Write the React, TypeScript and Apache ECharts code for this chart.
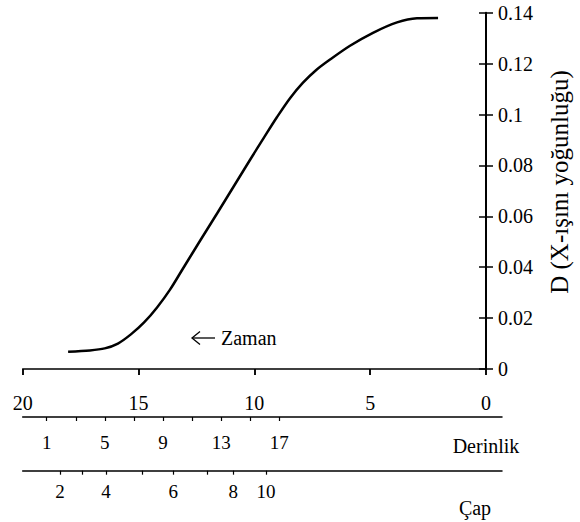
import React, { useEffect, useRef } from "react";
import * as echarts from "echarts";

// Zaman (time) axis and the density curve
const curveTime = [18.04, 17.1, 16.46, 15.89, 15.33, 14.76, 14.2, 13.64, 13.08, 12.35, 11.61, 10.88, 10.15, 9.58, 9.02, 8.46, 7.9, 7.34, 6.73, 5.87, 4.88, 3.84, 2.98, 2.07];
const curveDensity = [0.0068, 0.0073, 0.0081, 0.01, 0.0136, 0.0183, 0.0242, 0.0312, 0.0395, 0.0503, 0.0611, 0.0719, 0.0827, 0.091, 0.099, 0.1064, 0.1125, 0.1174, 0.1216, 0.127, 0.1321, 0.1362, 0.1378, 0.1379];

// Derinlik (depth) scale
const derinlikTicks = [1, 3, 5, 7, 9, 11, 13, 15, 17];
const derinlikLabels = [1, 5, 9, 13, 17];

// Çap (diameter) scale: value and its position on the time scale
const capValues = [2, 3, 4, 5, 6, 7, 8, 10];
const capTimes = [18.39, 17.41, 16.4, 14.86, 13.5, 12.03, 10.91, 9.5];
const capLabels = [2, 4, 6, 8, 10];

const FONT = "'Liberation Serif', 'Times New Roman', serif";
const INK = "#000";

export default function App() {
  const ref = useRef<HTMLDivElement>(null);
  useEffect(() => {
    if (!ref.current) return;
    const chart = echarts.init(ref.current, undefined, { renderer: "svg" });
    const data = curveTime.map((t, i) => [t, curveDensity[i]]);
    const capLabelTimes = capLabels.map((v) => capTimes[capValues.indexOf(v)]);
    const labelStyle = { color: INK, fontFamily: FONT, fontSize: 20 };
    chart.setOption({
      animation: false,
      backgroundColor: "#fff",
      textStyle: { fontFamily: FONT },
      grid: [
        { left: 22.7, right: 94, top: 12.7, bottom: 153 },
        { left: 22.7, right: 78, top: 416, height: 1 },
        { left: 22.7, right: 78, top: 469.7, height: 1 },
      ],
      xAxis: [
        {
          type: "value", gridIndex: 0, min: 0, max: 20, interval: 5, inverse: true,
          axisLine: { show: true, onZero: false, lineStyle: { color: INK, width: 1.5 } },
          axisTick: { show: true, length: 6, lineStyle: { color: INK, width: 1.5 } },
          axisLabel: { ...labelStyle, margin: 24 },
          splitLine: { show: false },
        },
        {
          type: "value", gridIndex: 0, min: 0, max: 20, interval: 5, inverse: true,
          axisLine: { show: false },
          axisTick: { show: true, inside: true, length: 6, lineStyle: { color: INK, width: 1.5 } },
          axisLabel: { show: false },
          splitLine: { show: false },
        },
        {
          type: "value", gridIndex: 1, min: -0.65, max: 32.31,
          axisLine: { show: true, onZero: false, lineStyle: { color: INK, width: 1.5 } },
          axisTick: { show: true, length: 4, customValues: derinlikTicks, lineStyle: { color: INK, width: 1.2 } },
          axisLabel: { ...labelStyle, fontSize: 19, margin: 16, customValues: derinlikLabels },
          splitLine: { show: false },
        },
        {
          type: "value", gridIndex: 2, min: -0.69, max: 20, inverse: true,
          axisLine: { show: true, onZero: false, lineStyle: { color: INK, width: 1.5 } },
          axisTick: { show: true, length: 4, customValues: capTimes, lineStyle: { color: INK, width: 1.2 } },
          axisLabel: {
            ...labelStyle, fontSize: 19, margin: 11, customValues: capLabelTimes,
            formatter: (val: number) => {
              const i = capTimes.findIndex((t) => Math.abs(t - val) < 1e-6);
              return i >= 0 ? String(capValues[i]) : "";
            },
          },
          splitLine: { show: false },
        },
      ],
      yAxis: [
        {
          type: "value", gridIndex: 0, position: "right", min: 0, max: 0.14, interval: 0.02,
          axisLine: { show: true, onZero: false, lineStyle: { color: INK, width: 2 } },
          axisTick: { show: true, length: 7, lineStyle: { color: INK, width: 1.5 } },
          axisLabel: { ...labelStyle, margin: 12 },
          splitLine: { show: false },
        },
        {
          type: "value", gridIndex: 0, position: "right", min: 0, max: 0.14, interval: 0.02,
          axisLine: { show: false },
          axisTick: { show: true, inside: true, length: 7, lineStyle: { color: INK, width: 1.5 } },
          axisLabel: { show: false },
          splitLine: { show: false },
        },
        { type: "value", gridIndex: 1, show: false },
        { type: "value", gridIndex: 2, show: false },
      ],
      series: [
        {
          type: "line", xAxisIndex: 0, yAxisIndex: 0, data,
          smooth: 0.3, showSymbol: false, symbol: "none",
          lineStyle: { color: INK, width: 2.5 },
        },
      ],
      graphic: [
        {
          type: "text", x: 559, y: 182, rotation: Math.PI / 2,
          style: { text: "D (X-ışını yoğunluğu)", fill: INK, font: `25px ${FONT}`, align: "center", verticalAlign: "middle" },
        },
        {
          type: "text", x: 486, y: 446,
          style: { text: "Derinlik", fill: INK, font: `20px ${FONT}`, align: "center", verticalAlign: "middle" },
        },
        {
          type: "text", x: 475, y: 508,
          style: { text: "Çap", fill: INK, font: `20px ${FONT}`, align: "center", verticalAlign: "middle" },
        },
        {
          type: "line", shape: { x1: 192, y1: 338, x2: 215, y2: 338 },
          style: { stroke: INK, lineWidth: 1.3 },
        },
        {
          type: "polyline", shape: { points: [[200, 331.5], [192, 338], [200, 344.5]] },
          style: { stroke: INK, lineWidth: 1.3, fill: null },
        },
        {
          type: "text", x: 221, y: 338,
          style: { text: "Zaman", fill: INK, font: `20px ${FONT}`, align: "left", verticalAlign: "middle" },
        },
      ],
    });
    return () => chart.dispose();
  }, []);
  return (
    <div
      ref={ref}
      style={{ position: "absolute", left: 0, top: 0, width: 580, height: 522, background: "#fff" }}
    />
  );
}
